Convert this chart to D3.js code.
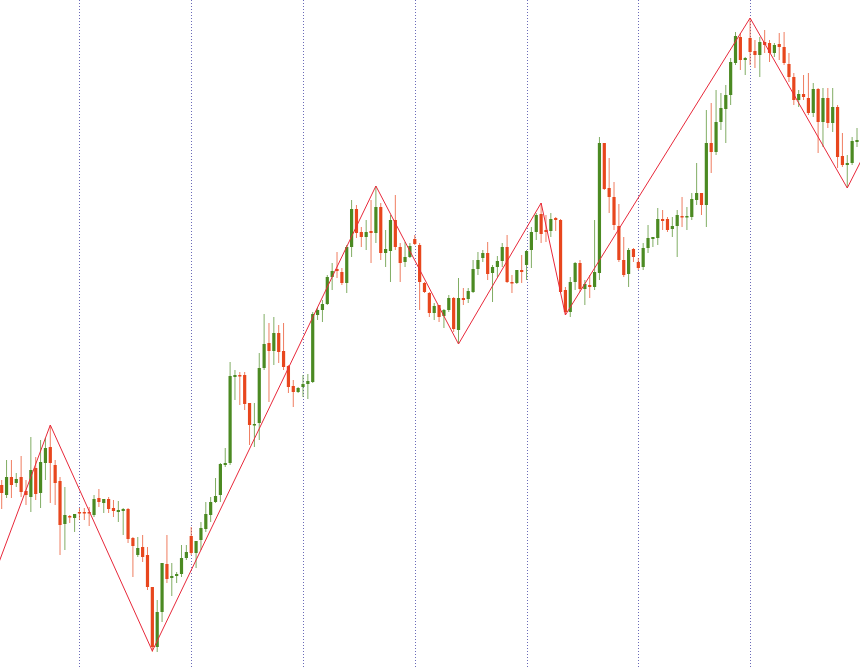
<!DOCTYPE html>
<head>
<meta charset="utf-8">
<script src="https://d3js.org/d3.v7.min.js"></script>
<style>
  body { margin: 0; background: #fff; }
</style>
</head>
<body>
<script>
// price levels (screen-style units, smaller = higher)
var open = [485,495,477,483,477,491,497,468,493,463, 447,465,481,524,516,518,512,512,512,515,
  498,503,499,508,512,511,509,538,555,547, 555,587,647,612,564,578,576,574,558,536,
  553,540,529,515,502,495,465,463,377,375, 375,403,425,423,368,343,351,333,351,366,
  386,392,387,384,382,315,310,304,277,269, 272,283,247,209,232,237,231,233,207,253,
  251,220,247,262,257,239,245,283,293,313, 305,316,310,298,330,298,299,292,269,258,
  253,273,267,261,247,282,283,270,265,250, 232,214,230,231,218,220,290,312,282,263,
  289,285,287,273,143,188,197,226,260,274, 249,262,267,248,239,238,219,219,229,226,
  216,217,217,200,193,205,143,152,122,109, 95,63,37,60,38,51,55,42,43,53,
  44,47,64,77,100,94,98,113,89,122, 98,123,107,156,165,163,142];
var high = [480,460,460,473,456,480,437,457,440,438, 425,460,477,487,515,514,508,508,507,495,
  489,499,497,500,501,508,508,537,537,535, 547,587,600,563,535,563,572,545,545,527,
  541,522,502,497,478,463,448,362,370,372, 372,403,403,353,314,323,317,325,323,365,
  380,387,375,374,312,307,300,275,263,252, 268,245,200,205,227,220,200,186,203,230,
  215,195,243,242,243,235,243,282,292,303, 305,309,295,297,278,288,288,260,252,250,
  242,265,256,243,235,275,270,255,250,227, 213,203,215,213,217,219,287,277,262,260,
  280,275,220,137,143,158,182,204,237,248, 248,258,243,225,237,208,210,217,217,210,
  197,207,193,163,193,110,103,90,93,85, 58,32,33,57,18,40,37,30,40,43,
  33,32,53,73,90,75,73,83,88,88, 88,88,105,133,155,137,128];
var low = [509,498,498,487,497,505,512,500,508,480, 503,505,555,550,523,532,520,520,526,517,
  507,513,513,517,522,535,543,577,557,562, 590,652,652,622,583,596,583,577,560,555,
  568,550,532,522,503,502,467,465,400,405, 410,445,447,440,370,402,365,363,370,393,
  407,393,397,399,383,320,322,305,290,278, 285,293,257,238,247,250,263,243,260,267,
  282,250,282,267,258,245,310,293,317,320, 322,328,312,332,344,305,303,293,275,262,
  280,302,277,267,283,293,284,283,280,268, 240,243,242,237,231,293,315,317,290,292,
  305,298,290,280,190,213,230,262,277,287, 262,270,270,253,247,245,230,232,237,257,
  227,230,220,205,215,227,173,155,130,143, 105,65,70,75,65,68,77,53,62,57,
  60,65,82,105,107,100,115,117,153,147, 128,132,168,167,188,165,147];
var close = [493,477,485,479,492,495,470,494,462,448, 463,483,525,515,517,514,513,513,513,499,
  502,499,509,511,510,509,539,546,548,557, 587,647,612,563,579,576,574,558,552,553,
  541,528,514,502,496,464,463,376,375,376, 404,425,424,368,344,351,333,352,367,387,
  392,388,384,381,314,310,304,277,271,271, 283,247,209,233,237,232,233,207,253,249,
  220,247,263,257,246,244,282,292,313,306, 317,310,298,329,298,300,291,269,260,253,
  274,267,261,247,282,283,270,272,251,232, 215,234,232,219,220,292,312,282,263,289,
  284,287,272,143,189,197,225,260,275,250, 257,268,248,238,237,219,221,230,226,215,
  217,216,199,193,205,143,152,122,108,95, 62,36,60,58,52,55,42,45,53,45,
  47,63,77,100,94,97,113,89,122,98, 123,107,157,165,163,141,140];

// zigzag turning points: candle index, level
var zigIdx = [-2, 10, 31, 77, 94, 111, 116, 154, 174, 179];
var zigVal = [581, 425, 651, 186, 344, 203, 315, 18, 188, 140];

// day separators (candle index)
var sepIdx = [16, 39, 62, 85, 108, 131, 154];

var W = 860, H = 667;
var x = d3.scaleLinear().domain([0, 176]).range([1.7, 857]);
var y = d3.scaleLinear().domain([0, 667]).range([0, 667]);

var svg = d3.select("body").append("svg")
    .attr("width", W).attr("height", H);

svg.selectAll("line.sep").data(sepIdx).enter().append("line")
    .attr("class", "sep")
    .attr("x1", function(d) { return Math.round(x(d)) + 0.5; })
    .attr("x2", function(d) { return Math.round(x(d)) + 0.5; })
    .attr("y1", 0).attr("y2", H)
    .attr("stroke", "#6a6ab8")
    .attr("stroke-width", 1)
    .attr("stroke-dasharray", "1,2");

var idx = d3.range(open.length);
var col = function(i) { return close[i] < open[i] ? "#4b8a22" : "#e8461d"; };

svg.selectAll("line.wick").data(idx).enter().append("line")
    .attr("class", "wick")
    .attr("x1", function(i) { return x(i); })
    .attr("x2", function(i) { return x(i); })
    .attr("y1", function(i) { return y(high[i]); })
    .attr("y2", function(i) { return y(low[i]); })
    .attr("stroke", col)
    .attr("stroke-opacity", 0.7)
    .attr("stroke-width", 1);

svg.selectAll("rect.body").data(idx).enter().append("rect")
    .attr("class", "body")
    .attr("x", function(i) { return x(i) - 1.6; })
    .attr("width", 3.2)
    .attr("y", function(i) { return y(Math.min(open[i], close[i])); })
    .attr("height", function(i) { return Math.max(1.5, Math.abs(y(open[i]) - y(close[i]))); })
    .attr("fill", col);

var zz = d3.line()
    .x(function(d) { return x(zigIdx[d]); })
    .y(function(d) { return y(zigVal[d]); });

svg.append("path")
    .datum(d3.range(zigIdx.length))
    .attr("d", zz)
    .attr("fill", "none")
    .attr("stroke", "#e8283a")
    .attr("stroke-width", 1);
</script>
</body>
</html>
